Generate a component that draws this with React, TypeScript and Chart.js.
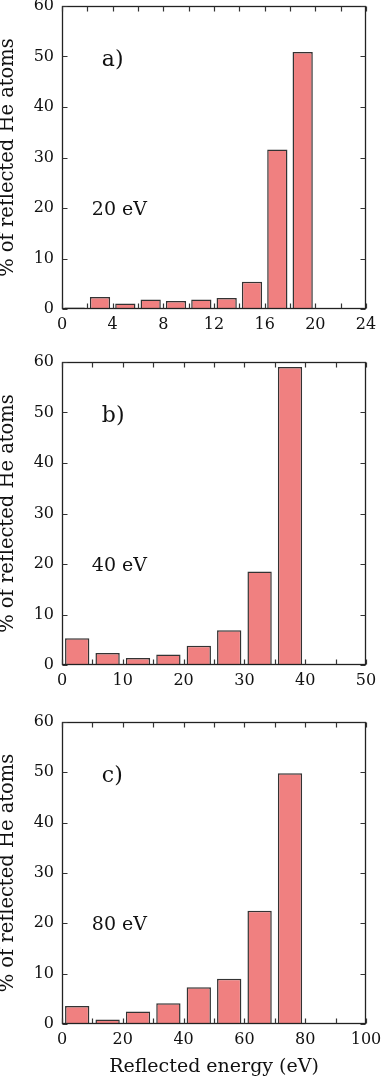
import React, { useEffect, useRef } from "react";
import { Chart, registerables } from "chart.js";

Chart.register(...registerables);

// ---------- data ----------
const centersA = [1, 3, 5, 7, 9, 11, 13, 15, 17, 19];
const valuesA = [0.3, 2.4, 1.1, 1.9, 1.6, 1.9, 2.2, 5.4, 31.6, 50.9];
const xTicksA = [0, 4, 8, 12, 16, 20, 24];

const centersB = [2.5, 7.5, 12.5, 17.5, 22.5, 27.5, 32.5, 37.5];
const valuesB = [5.3, 2.4, 1.4, 2.1, 3.8, 6.9, 18.5, 59.0];
const xTicksB = [0, 10, 20, 30, 40, 50];

const centersC = [5, 15, 25, 35, 45, 55, 65, 75];
const valuesC = [3.6, 0.9, 2.5, 4.1, 7.3, 9.0, 22.5, 49.8];
const xTicksC = [0, 20, 40, 60, 80, 100];

const yTicks = [0, 10, 20, 30, 40, 50, 60];

const FONT = '"DejaVu Serif", "Liberation Serif", serif';

type PanelCfg = {
  centers: number[];
  values: number[];
  xTicks: number[];
  xMax: number;
  minorStep: number;
  tag: string;
  energy: string;
  top: number;
  height: number;
  axisH: number;
  showXTitle: boolean;
};

const panels: PanelCfg[] = [
  { centers: centersA, values: valuesA, xTicks: xTicksA, xMax: 24, minorStep: 2, tag: "a)", energy: "20 eV", top: -10, height: 350, axisH: 31, showXTitle: false },
  { centers: centersB, values: valuesB, xTicks: xTicksB, xMax: 50, minorStep: 5, tag: "b)", energy: "40 eV", top: 345.7, height: 350, axisH: 31, showXTitle: false },
  { centers: centersC, values: valuesC, xTicks: xTicksC, xMax: 100, minorStep: 10, tag: "c)", energy: "80 eV", top: 705.7, height: 372.3, axisH: 54, showXTitle: true },
];

const PAD_TOP = 16;
const PAD_RIGHT = 16;

const framePlugin = {
  id: "frame",
  afterDatasetsDraw(chart: any, _args: any, opts: any) {
    const { ctx, chartArea, scales } = chart;
    const xs = scales.x;
    const ys = scales.y;
    const L = Math.round(chartArea.left) + 0.5;
    const R = Math.round(chartArea.right) - 0.5;
    const T = Math.round(chartArea.top) + 0.5;
    const B = Math.round(chartArea.bottom) - 0.5;
    ctx.save();
    ctx.strokeStyle = "#222";
    ctx.lineWidth = 1.3;
    ctx.strokeRect(L, T, R - L, B - T);
    const tl = 5;
    ctx.strokeStyle = "#333";
    ctx.lineWidth = 1.2;
    ctx.beginPath();
    for (let v = 0; v <= opts.xMax + 1e-9; v += opts.minorStep) {
      const px = Math.round(xs.getPixelForValue(v)) + 0.5;
      ctx.moveTo(px, B);
      ctx.lineTo(px, B - tl);
      ctx.moveTo(px, T);
      ctx.lineTo(px, T + tl);
    }
    for (const v of yTicks) {
      const py = Math.round(ys.getPixelForValue(v)) + 0.5;
      ctx.moveTo(L, py);
      ctx.lineTo(L + tl, py);
      ctx.moveTo(R, py);
      ctx.lineTo(R - tl, py);
    }
    ctx.stroke();

    // annotations
    ctx.fillStyle = "#111";
    ctx.textBaseline = "alphabetic";
    ctx.textAlign = "left";
    const w = chartArea.right - chartArea.left;
    const h = chartArea.bottom - chartArea.top;
    ctx.font = `22px ${FONT}`;
    ctx.fillText(opts.tag, chartArea.left + 0.131 * w, chartArea.top + 0.198 * h);
    ctx.font = `19px ${FONT}`;
    ctx.fillText(opts.energy, chartArea.left + 0.098 * w, chartArea.top + 0.69 * h);
    ctx.restore();
  },
};

function Panel({ cfg }: { cfg: PanelCfg }) {
  const ref = useRef<HTMLCanvasElement | null>(null);
  useEffect(() => {
    if (!ref.current) return;
    const chart = new Chart(ref.current, {
      type: "bar",
      data: {
        datasets: [
          {
            data: cfg.centers.map((c, i) => ({ x: c, y: cfg.values[i] })),
            backgroundColor: "#F08080",
            borderColor: "#333",
            borderWidth: 1.5,
            categoryPercentage: 1,
            barPercentage: 0.8,
          } as any,
        ],
      },
      options: {
        responsive: false,
        animation: false,
        events: [],
        layout: { padding: { top: PAD_TOP, right: PAD_RIGHT, left: 0, bottom: 0 } },
        plugins: {
          legend: { display: false },
          tooltip: { enabled: false },
          frame: { xMax: cfg.xMax, minorStep: cfg.minorStep, tag: cfg.tag, energy: cfg.energy },
        } as any,
        scales: {
          x: {
            type: "linear",
            min: 0,
            max: cfg.xMax,
            offset: false,
            grid: { display: false, drawTicks: false, offset: false },
            border: { display: false },
            ticks: { color: "#111", font: { family: FONT, size: 16 }, padding: 6, maxRotation: 0, autoSkip: false },
            afterBuildTicks: (s: any) => {
              s.ticks = cfg.xTicks.map((v) => ({ value: v }));
            },
            afterFit: (s: any) => {
              s.height = cfg.axisH;
              s.paddingLeft = 0;
              s.paddingRight = 0;
            },
            title: {
              display: cfg.showXTitle,
              text: "Reflected energy (eV)",
              color: "#111",
              font: { family: FONT, size: 19, lineHeight: 1.2 },
              padding: { top: 0, bottom: 0 },
            },
          },
          y: {
            min: 0,
            max: 60,
            grid: { display: false, drawTicks: false },
            border: { display: false },
            ticks: { color: "#111", font: { family: FONT, size: 16 }, padding: 8 },
            afterBuildTicks: (s: any) => {
              s.ticks = yTicks.map((v) => ({ value: v }));
            },
            afterFit: (s: any) => {
              s.width = 62;
              s.paddingTop = 0;
              s.paddingBottom = 0;
            },
            title: {
              display: true,
              text: "% of reflected He atoms",
              color: "#111",
              font: { family: FONT, size: 19.5, lineHeight: 0.85 },
              padding: { top: 0, bottom: 0 },
            },
          },
        },
      },
      plugins: [framePlugin],
    });
    return () => chart.destroy();
  }, [cfg]);
  return (
    <canvas
      ref={ref}
      width={382}
      height={cfg.height}
      style={{ position: "absolute", left: 0, top: cfg.top, width: 382, height: cfg.height }}
    />
  );
}

export default function App() {
  return (
    <div style={{ position: "absolute", left: 0, top: 0, width: 382, height: 1078, overflow: "hidden", background: "#fff" }}>
      {panels.map((p, i) => (
        <Panel key={i} cfg={p} />
      ))}
    </div>
  );
}
